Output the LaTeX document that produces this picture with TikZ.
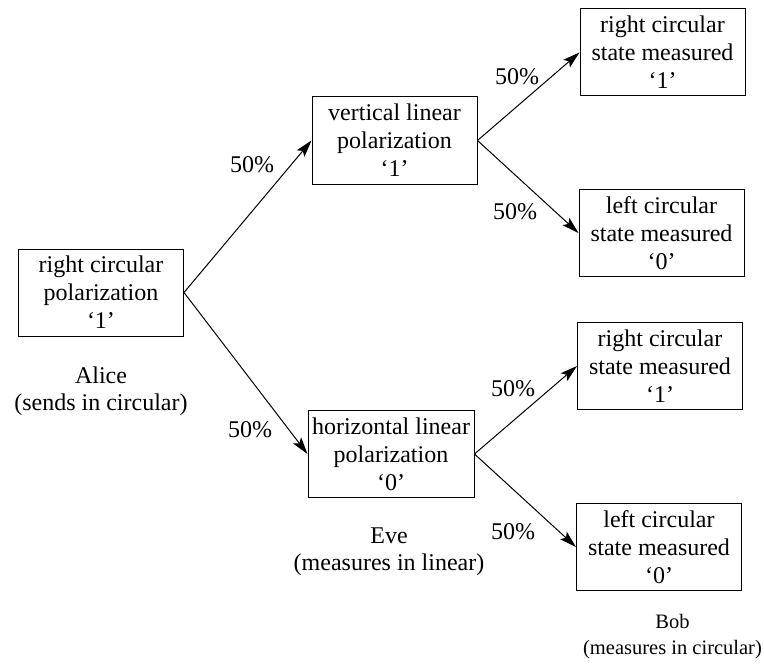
\documentclass[tikz,border=0pt]{standalone}
\usepackage{fontspec}
\setmainfont{Liberation Serif}
\usetikzlibrary{arrows.meta}
\begin{document}
\begin{tikzpicture}[x=1pt,y=-1pt,
  box/.style={draw,line width=1pt,align=center,inner sep=0pt,minimum width=165pt,minimum height=87pt,font=\fontsize{24}{28}\selectfont},
  lbl/.style={align=center,font=\fontsize{24}{27}\selectfont},
  pct/.style={font=\fontsize{24}{28}\selectfont},
  arr/.style={-{Stealth[length=17pt,width=10pt,inset=3.5pt]},line width=1pt}]
\useasboundingbox (0,0) rectangle (764,669);
\node[box] (alice) at (101,292.5) {right circular\\polarization\\‘1’};
\node[box] (vert) at (394.5,140.5) {vertical linear\\polarization\\‘1’};
\node[box,minimum width=166pt] (hor) at (391,454) {horizontal linear\\polarization\\‘0’};
\node[box] (b1) at (662.5,52.5) {right circular\\state measured\\‘1’};
\node[box] (b2) at (661.5,233) {left circular\\state measured\\‘0’};
\node[box] (b3) at (660,366) {right circular\\state measured\\‘1’};
\node[box] (b4) at (659,547) {left circular\\state measured\\‘0’};
\node[lbl] (alab) at (101,391) {Alice\\(sends in circular)};
\node[lbl] (elab) at (389,551.5) {Eve\\(measures in linear)};
\node[lbl,font=\fontsize{20.5}{26}\selectfont] (blab) at (672.5,637) {Bob\\(measures in circular)};
\draw[arr] (alice.east) -- (vert.west);
\draw[arr] (alice.east) -- (hor.west);
\draw[arr] (vert.east) -- (b1.west);
\draw[arr] (vert.east) -- (b2.west);
\draw[arr] (hor.east) -- (b3.west);
\draw[arr] (hor.east) -- (b4.west);
\node[pct] (p1) at (252,165) {50\%};
\node[pct] (p2) at (250,430) {50\%};
\node[pct] (p3) at (517,77) {50\%};
\node[pct] (p4) at (515,212) {50\%};
\node[pct] (p5) at (513,389) {50\%};
\node[pct] (p6) at (513,532) {50\%};
\end{tikzpicture}
\end{document}
